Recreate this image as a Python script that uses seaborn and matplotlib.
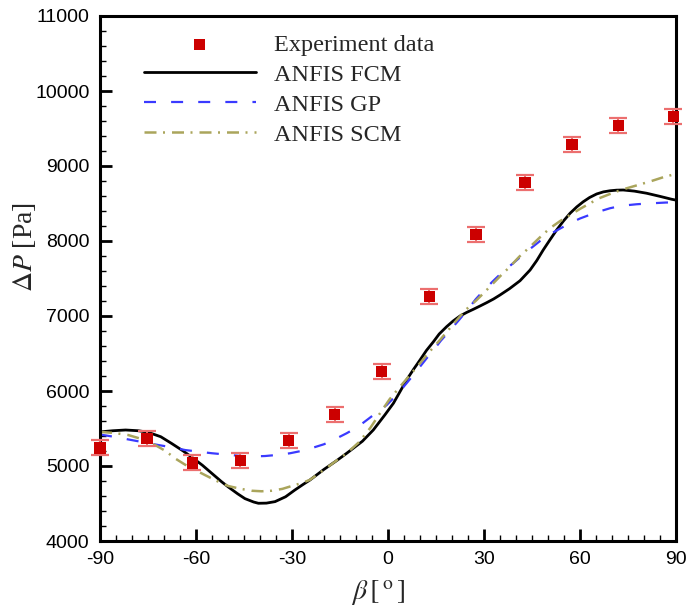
import numpy as np
import pandas as pd
import matplotlib
matplotlib.use("Agg")
import matplotlib.pyplot as plt
from matplotlib.ticker import MultipleLocator
import seaborn as sns

# ---- data ----
exp_x = [-90, -75.3, -61.2, -46.2, -31, -16.6, -1.9, 12.9, 27.5, 42.8, 57.5, 71.9, 89.2]
exp_y = [5240, 5370, 5040, 5070, 5345, 5685, 6265, 7265, 8085, 8785, 9290, 9535, 9665]
exp_err = [100] * len(exp_x)

fcm_x = [-90, -86, -82, -78, -75, -71, -67.6, -64, -61.4, -58, -55, -52, -49.9, -47, -44.7, -42,
         -40.5, -38, -35.3, -32, -29.1, -26.5, -24.4, -20, -16, -12.9, -8, -4.6, -1, 1.7, 4, 5.8,
         8, 10, 12, 14.2, 16, 18.3, 20.4, 22.5, 24.6, 26.7, 28.75, 30.8, 33, 35, 38, 41.25, 44.4,
         46.5, 48.5, 50.6, 52.7, 54.8, 56.9, 59, 61, 63, 65.2, 67.3, 69.4, 71.5, 73.5, 77, 80.8, 85,
         88.6, 90]
fcm_y = [5455, 5470, 5480, 5470, 5450, 5390, 5300, 5200, 5120, 5010, 4900, 4790, 4720, 4630, 4565, 4520,
         4503, 4505, 4525, 4590, 4680, 4755, 4813, 4955, 5073, 5170, 5330, 5480, 5680, 5837, 6010, 6147,
         6290, 6413, 6540, 6657, 6760, 6857, 6935, 7000, 7048, 7090, 7133, 7177, 7227, 7280, 7365, 7470, 7613,
         7740, 7880, 8015, 8147, 8265, 8370, 8455, 8523, 8580, 8627, 8655, 8670, 8678, 8680, 8665, 8637, 8595,
         8557, 8545]

gp_x = [-90, -85, -80, -75, -71.8, -67, -63.4, -59, -55, -50, -45.7, -42, -38.4, -34, -30.6, -26,
        -20, -16, -12.9, -9.5, -6.7, -3, -0.4, 3, 5.8, 9, 12.1, 14.5, 16.5, 19.5, 22.2, 25, 27.4, 30,
        33.1, 36, 39, 42, 45, 47.5, 50, 53.75, 57, 60, 65, 69.4, 73, 77.7, 82, 86.5, 90]
gp_y = [5420, 5385, 5345, 5305, 5280, 5245, 5213, 5190, 5170, 5150, 5133, 5128, 5133, 5150, 5170, 5210,
        5290, 5370, 5437, 5520, 5610, 5730, 5813, 5960, 6103, 6270, 6437, 6560, 6670, 6815, 6947, 7090, 7223, 7345,
        7477, 7595, 7700, 7810, 7915, 8000, 8075, 8165, 8240, 8300, 8380, 8437, 8470, 8490, 8502, 8512, 8518]

scm_x = [-90, -85.5, -81.2, -77, -72.8, -69.5, -66.6, -63.5, -60.3, -57, -54.1, -52, -49.9, -46, -42.6,
         -39.5, -36.4, -33, -30.1, -27, -24.4, -20, -16, -12.9, -9, -5.5, -2.5, 0.5, 3.75, 7, 10, 13.1,
         16.25, 19, 21.5, 24.5, 27.7, 30, 32.9, 35.5, 38.1, 41, 44.4, 47.5, 50.6, 53.75, 56.9, 60, 63.1, 66,
         69.4, 72, 74.6, 78, 82, 86, 89.5]
scm_y = [5455, 5440, 5413, 5360, 5280, 5200, 5103, 5020, 4947, 4875, 4813, 4770, 4733, 4695, 4670,
         4663, 4670, 4695, 4733, 4772, 4815, 4950, 5075, 5170, 5320, 5510, 5703, 5890, 6057, 6220, 6370, 6530,
         6680, 6820, 6947, 7090, 7213, 7310, 7437, 7550, 7657, 7790, 7923, 8050, 8170, 8265, 8347, 8428, 8503, 8570,
         8627, 8668, 8703, 8745, 8795, 8850, 8890]

# ---- style ----
sns.set_theme(style="white")
plt.rcParams["font.family"] = ["Liberation Sans", "DejaVu Sans"]
plt.rcParams["mathtext.fontset"] = "stix"
plt.rcParams["axes.unicode_minus"] = False

fig = plt.figure(figsize=(6.86, 6.15), dpi=100)
ax = fig.add_axes([100 / 686, 1 - 541 / 615, 576 / 686, 525 / 615])

df_exp = pd.DataFrame({"x": exp_x, "y": exp_y})
ax.errorbar(exp_x, exp_y, yerr=exp_err, fmt="none", ecolor="#ec6f6f",
            elinewidth=1.4, capsize=6.8, capthick=1.6, zorder=3, clip_on=False)
sns.scatterplot(data=df_exp, x="x", y="y", marker="s", s=64, color="#cc0000",
                edgecolor="none", label="Experiment data", ax=ax, zorder=4, clip_on=False)

sns.lineplot(x=fcm_x, y=fcm_y, sort=False, estimator=None, color="black", lw=2.0,
             label="ANFIS FCM", ax=ax, zorder=2)
sns.lineplot(x=gp_x, y=gp_y, sort=False, estimator=None, color="#3a3aff", lw=1.6,
             linestyle=(0, (5.4, 6.8)), label="ANFIS GP", ax=ax, zorder=2)
sns.lineplot(x=scm_x, y=scm_y, sort=False, estimator=None, color="#aaa55c", lw=1.8,
             linestyle=(0, (4.8, 2.6, 0.8, 2.8)), label="ANFIS SCM", ax=ax, zorder=2)

ax.set_xlim(-90, 90)
ax.set_ylim(4000, 11000)
ax.xaxis.set_major_locator(MultipleLocator(30))
ax.xaxis.set_minor_locator(MultipleLocator(5))
ax.yaxis.set_major_locator(MultipleLocator(1000))
ax.yaxis.set_minor_locator(MultipleLocator(200))
ax.tick_params(which="both", direction="in", top=False, right=False, left=True, bottom=True,
               labelsize=14, colors="black")
ax.tick_params(which="major", length=8.5, width=2.0, pad=7.5)
ax.tick_params(which="minor", length=4.5, width=1.0)
for sp in ax.spines.values():
    sp.set_linewidth(2.2)
    sp.set_color("black")

ax.set_xlabel(r"$\beta\,[\,^{\mathrm{o}}\,]$", fontsize=20)
ax.xaxis.set_label_coords((378.5 - 100) / 576, -0.07)
ax.set_ylabel(r"$\Delta P$ [Pa]", fontsize=20, family=["Liberation Serif"])
ax.yaxis.set_label_coords(-0.108, (541 - 247) / 525)

leg = ax.legend(loc="upper left", bbox_to_anchor=(0.051, 0.994), frameon=False,
                prop={"family": "Liberation Serif", "size": 17.5},
                handlelength=4.6, handletextpad=0.75, labelspacing=0.33, borderpad=0.1)

fig.savefig("out.png", dpi=100)
